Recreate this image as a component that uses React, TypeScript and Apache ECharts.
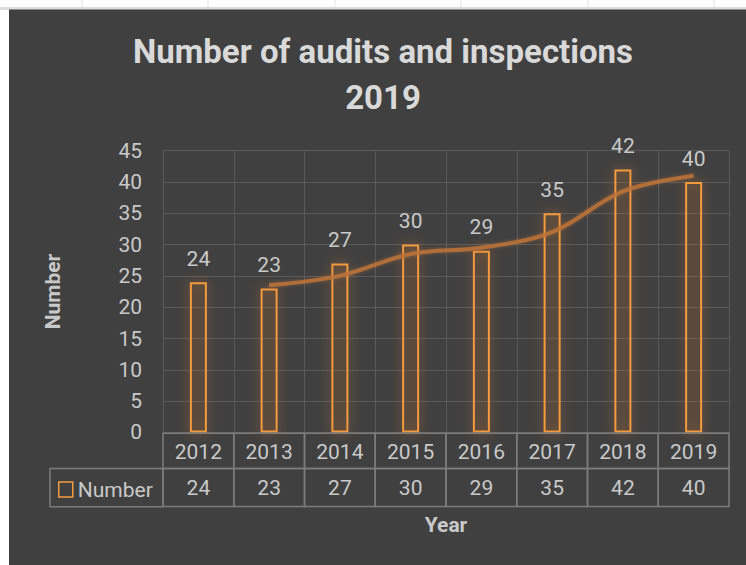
import React, { useEffect, useRef } from "react";
import * as echarts from "echarts";

const years = ["2012", "2013", "2014", "2015", "2016", "2017", "2018", "2019"];
const counts = [24, 23, 27, 30, 29, 35, 42, 40];
const trend = [null, 23.5, 25, 28.5, 29.5, 32, 38.5, 41];
const titleLines = ["Number of audits and inspections", "2019"];
const seriesName = "Number";
const yAxisName = "Number";
const xAxisName = "Year";

const FONT = "Roboto, 'Open Sans', sans-serif";
const LABEL = "#c9c9c9";
const GRID = "#5a5a5a";
const TABLE = "#7c7c7c";
const ORANGE = "#f39a3e";

export default function App() {
  const ref = useRef<HTMLDivElement>(null);
  useEffect(() => {
    if (!ref.current) return;
    const chart = echarts.init(ref.current, undefined, { renderer: "svg" });
    const sheetTicks = [82, 208, 335, 461, 588, 714];
    const option: any = {
      animation: false,
      backgroundColor: "#ffffff",
      textStyle: { fontFamily: FONT },
      graphic: [
        { type: "rect", z: -10, shape: { x: 0, y: 7, width: 746, height: 3 }, style: { fill: "#dcdcdc" } },
        ...sheetTicks.map((x) => ({
          type: "line",
          z: -10,
          shape: { x1: x, y1: 0, x2: x, y2: 7 },
          style: { stroke: "#e4e4e4", lineWidth: 1 },
        })),
        { type: "rect", z: -9, shape: { x: 9, y: 9.5, width: 737, height: 556 }, style: { fill: "#404040" } },
        {
          type: "text",
          x: 383,
          y: 51,
          style: {
            text: titleLines[0],
            fill: "#d9d9d9",
            font: `bold 33px ${FONT}`,
            textAlign: "center",
            textVerticalAlign: "middle",
          },
        },
        {
          type: "text",
          x: 383,
          y: 97,
          style: {
            text: titleLines[1],
            fill: "#d9d9d9",
            font: `bold 33px ${FONT}`,
            textAlign: "center",
            textVerticalAlign: "middle",
          },
        },
        {
          type: "rect",
          shape: { x: 50, y: 468.5, width: 113, height: 38.2 },
          style: { fill: "none", stroke: TABLE, lineWidth: 1.5 },
        },
      ],
      legend: {
        data: [seriesName],
        left: 53,
        top: 474,
        icon: "rect",
        itemWidth: 14,
        itemHeight: 15,
        itemGap: 6,
        itemStyle: { color: "transparent", borderColor: ORANGE, borderWidth: 1.5, shadowBlur: 0 },
        textStyle: { color: LABEL, fontSize: 21, fontFamily: FONT },
      },
      grid: { left: 163, top: 150.7, right: 17, bottom: 132.6, containLabel: false },
      xAxis: {
        type: "category",
        data: years,
        boundaryGap: true,
        axisLine: { show: false },
        axisTick: { show: false },
        splitLine: { show: true, lineStyle: { color: GRID, width: 1 } },
        axisLabel: { color: LABEL, fontSize: 21, margin: 9, fontFamily: FONT },
        name: xAxisName,
        nameLocation: "middle",
        nameGap: 82,
        nameTextStyle: { color: LABEL, fontSize: 21, fontWeight: "bold", fontFamily: FONT },
      },
      yAxis: {
        type: "value",
        min: 0,
        max: 45,
        interval: 5,
        axisLine: { show: false },
        axisTick: { show: false },
        splitLine: { show: true, lineStyle: { color: GRID, width: 1 } },
        axisLabel: { color: LABEL, fontSize: 21, margin: 21, fontFamily: FONT },
        name: yAxisName,
        nameLocation: "middle",
        nameRotate: 90,
        nameGap: 100,
        nameTextStyle: { color: LABEL, fontSize: 21, fontWeight: "bold", fontFamily: FONT },
      },
      series: [
        {
          name: seriesName,
          type: "bar",
          data: counts,
          barWidth: 17,
          itemStyle: {
            color: "rgba(243,154,62,0.04)",
            borderColor: ORANGE,
            borderWidth: 2,
            shadowBlur: 12,
            shadowColor: "rgba(237,125,49,0.7)",
          },
          label: {
            show: true,
            position: "top",
            distance: 13,
            color: LABEL,
            fontSize: 21,
            fontFamily: FONT,
          },
          z: 2,
        },
        {
          name: "trend",
          type: "line",
          data: trend,
          smooth: 0.35,
          symbol: "none",
          connectNulls: false,
          lineStyle: {
            color: "rgba(190,115,58,0.85)",
            width: 4,
            shadowBlur: 4,
            shadowColor: "rgba(190,115,58,0.5)",
          },
          z: 3,
        },
        {
          name: "table",
          type: "custom",
          clip: false,
          data: counts.map((v, i) => [i, v]),
          renderItem: (params: any, api: any) => {
            const i = api.value(0);
            const v = api.value(1);
            const base = api.coord([i, 0]);
            const w = api.size([1, 0])[0];
            const x0 = base[0] - w / 2;
            const y0 = base[1] + 0.8;
            return {
              type: "group",
              children: [
                {
                  type: "rect",
                  shape: { x: x0, y: y0, width: w, height: 35.2 },
                  style: { fill: "none", stroke: TABLE, lineWidth: 1.5 },
                },
                {
                  type: "rect",
                  shape: { x: x0, y: y0 + 35.2, width: w, height: 38.2 },
                  style: { fill: "none", stroke: TABLE, lineWidth: 1.5 },
                },
                {
                  type: "text",
                  x: base[0],
                  y: y0 + 55,
                  style: {
                    text: String(v),
                    fill: LABEL,
                    font: `21px ${FONT}`,
                    textAlign: "center",
                    textVerticalAlign: "middle",
                  },
                },
              ],
            };
          },
          z: 4,
        },
      ],
    };
    chart.setOption(option);
    return () => chart.dispose();
  }, []);
  return (
    <div
      ref={ref}
      style={{ position: "absolute", left: 0, top: 0, width: 746, height: 565 }}
    />
  );
}
